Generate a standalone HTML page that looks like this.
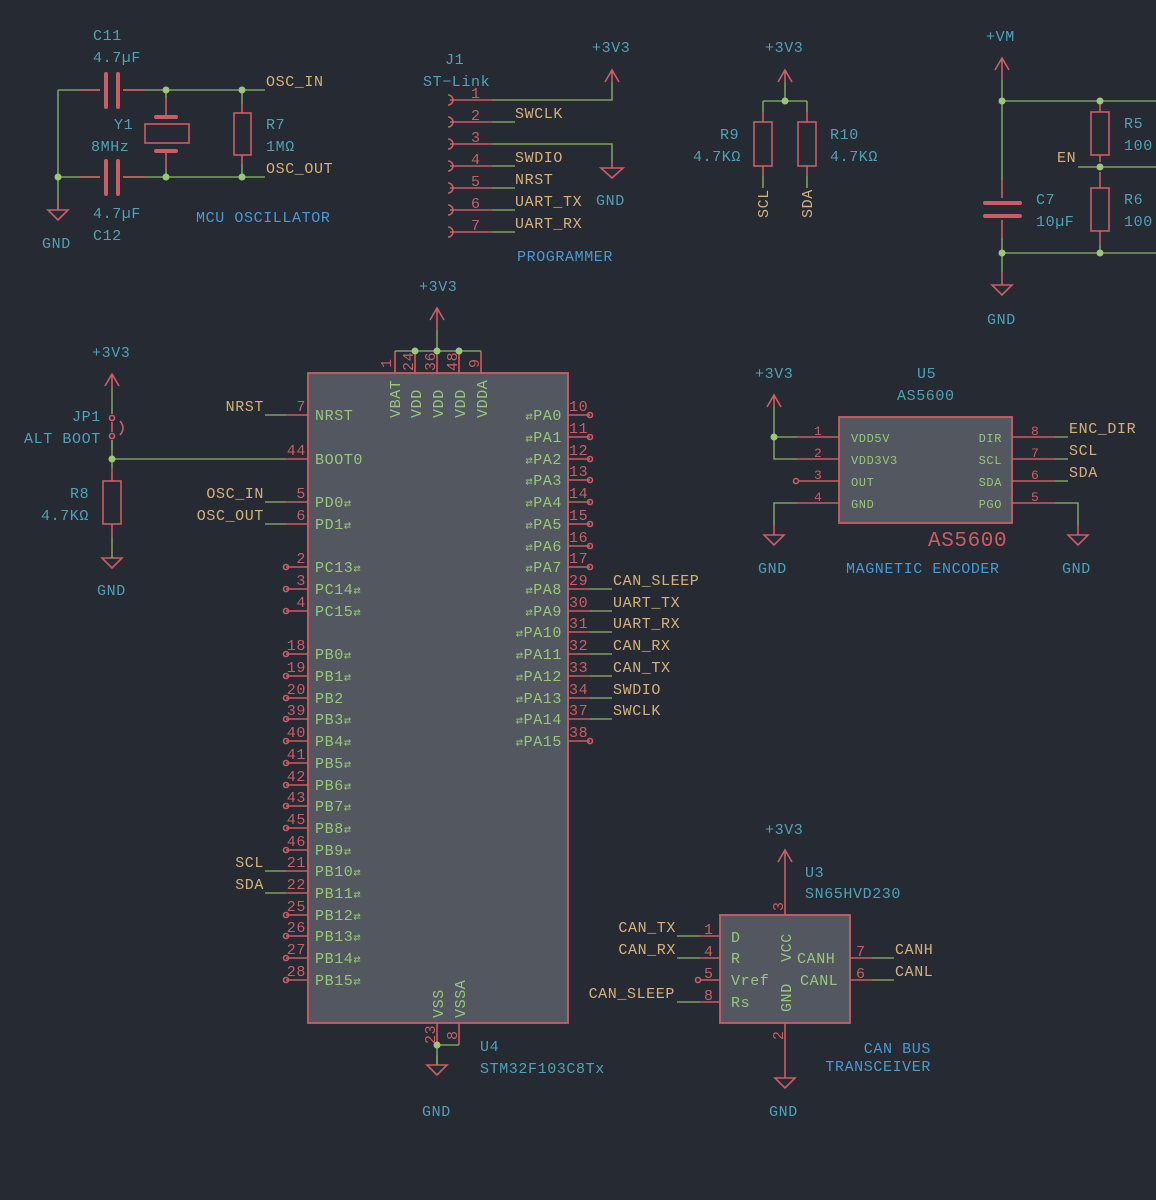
<!DOCTYPE html>
<html><head><meta charset="utf-8"><style>
html,body{margin:0;padding:0;background:#262a33;}
svg{display:block;}
text{font-family:"Liberation Mono",monospace;font-size:15px;letter-spacing:0.6px;}
.c{fill:#4ea3b8}.t{fill:#d6b27c}.g{fill:#98c878}.r{fill:#cc5d65}.b{fill:#4b9ad0}
.w{stroke:#7e9e5c;stroke-width:1.6;fill:none}
.p{stroke:#cc5d65;stroke-width:1.6;fill:none}
.pb{stroke:#cc5d65;stroke-width:4;fill:none;stroke-linecap:round}
.j{fill:#98c878}
.body{fill:#53575f;stroke:#cc5d65;stroke-width:1.8}
.s{font-size:12px}
</style></head><body>
<svg width="1156" height="1200" viewBox="0 0 1156 1200" xmlns="http://www.w3.org/2000/svg">
<rect width="1156" height="1200" fill="#262a33"/>

<!-- ===== OSCILLATOR ===== -->
<path class="w" d="M58 90H100M123 90H265M58 90V210M58 177H100M123 177H265M166 90V98M166 169V177M242 90V104M242 164V177"/>
<path class="p" d="M80 90H100M123 90H145M80 177H100M123 177H145M166 98V118M166 150V169M242 104V113M242 155V164"/>
<path class="pb" d="M106 74V107M118 74V107M106 161V194M118 161V194"/>
<path class="pb" d="M156 117H176M156 151H176"/>
<rect x="145" y="124" width="44" height="19" class="p" stroke-width="2"/>
<rect x="234" y="113" width="17" height="42" class="p" stroke-width="2"/>
<path class="p" d="M58 200V210M48 210H68L58 220Z"/>
<circle cx="166" cy="90" r="3.5" class="j"/><circle cx="242" cy="90" r="3.5" class="j"/>
<circle cx="166" cy="177" r="3.5" class="j"/><circle cx="242" cy="177" r="3.5" class="j"/>
<circle cx="58" cy="177" r="3.5" class="j"/>
<text x="93" y="40" class="c">C11</text><text x="93" y="62" class="c">4.7µF</text>
<text x="114" y="129" class="c">Y1</text><text x="91" y="151" class="c">8MHz</text>
<text x="93" y="218" class="c">4.7µF</text><text x="93" y="240" class="c">C12</text>
<text x="266" y="129" class="c">R7</text><text x="266" y="151" class="c">1MΩ</text>
<text x="266" y="86" class="t">OSC_IN</text><text x="266" y="173" class="t">OSC_OUT</text>
<text x="196" y="222" class="b">MCU OSCILLATOR</text>
<text x="42" y="248" class="c">GND</text>

<!-- ===== J1 ===== -->
<g>
<path class="p" d="M450 100H492M450 122H492M450 144H492M450 166H492M450 188H492M450 210H492M450 232H492"/>
<path class="w" d="M492 100H612V82M492 122H515M492 144H612V162M492 166H515M492 188H515M492 210H515M492 232H515"/>
<path class="p" d="M448 95a5 5 0 0 1 0 10M448 117a5 5 0 0 1 0 10M448 139a5 5 0 0 1 0 10M448 161a5 5 0 0 1 0 10M448 183a5 5 0 0 1 0 10M448 205a5 5 0 0 1 0 10M448 227a5 5 0 0 1 0 10"/>
<path class="p" d="M612 70V82M605 82L612 70L619 82M612 162V168M601 168H623L612 178Z"/>
<text x="471" y="98" class="r">1</text><text x="471" y="120" class="r">2</text><text x="471" y="142" class="r">3</text><text x="471" y="164" class="r">4</text><text x="471" y="186" class="r">5</text><text x="471" y="208" class="r">6</text><text x="471" y="230" class="r">7</text>
<text x="515" y="118" class="t">SWCLK</text><text x="515" y="162" class="t">SWDIO</text><text x="515" y="184" class="t">NRST</text><text x="515" y="206" class="t">UART_TX</text><text x="515" y="228" class="t">UART_RX</text>
<text x="445" y="64" class="c">J1</text><text x="423" y="86" class="c">ST−Link</text>
<text x="592" y="52" class="c">+3V3</text><text x="596" y="205" class="c">GND</text>
<text x="517" y="261" class="b">PROGRAMMER</text>
</g>

<!-- ===== R9 R10 ===== -->
<path class="p" d="M785 70V82M778 82L785 70L792 82M763 112V122M807 112V122M763 166V176M807 166V176"/>
<path class="w" d="M785 82V101M763 101H807M763 101V112M807 101V112M763 176V188M807 176V188"/>
<rect x="754" y="122" width="18" height="44" class="p" stroke-width="2"/>
<rect x="798" y="122" width="18" height="44" class="p" stroke-width="2"/>
<circle cx="785" cy="101" r="3.5" class="j"/>
<text x="765" y="52" class="c">+3V3</text>
<text x="720" y="139" class="c">R9</text><text x="693" y="161" class="c">4.7KΩ</text>
<text x="830" y="139" class="c">R10</text><text x="830" y="161" class="c">4.7KΩ</text>
<text transform="translate(768 218) rotate(-90)" class="t">SCL</text>
<text transform="translate(812 218) rotate(-90)" class="t">SDA</text>

<!-- ===== VM ===== -->
<path class="p" d="M1002 58V80M995 70L1002 58L1009 70M1002 180V198M1002 220V238M1002 272V285M992 285H1012L1002 295ZM1100 104V112M1100 155V162M1100 172V188M1100 231V245"/>
<path class="w" d="M1002 80V180M1002 238V272M1002 101H1156M1002 253H1156M1078 167H1156M1100 101V104M1100 245V253"/>
<path class="pb" d="M985 203H1020M985 216H1020"/>
<rect x="1091" y="112" width="18" height="43" class="p" stroke-width="2"/>
<rect x="1091" y="188" width="18" height="43" class="p" stroke-width="2"/>
<circle cx="1002" cy="101" r="3.5" class="j"/><circle cx="1100" cy="101" r="3.5" class="j"/>
<circle cx="1100" cy="167" r="3.5" class="j"/><circle cx="1002" cy="253" r="3.5" class="j"/><circle cx="1100" cy="253" r="3.5" class="j"/>
<text x="986" y="41" class="c">+VM</text>
<text x="1124" y="128" class="c">R5</text><text x="1124" y="150" class="c">100</text>
<text x="1124" y="204" class="c">R6</text><text x="1124" y="226" class="c">100</text>
<text x="1036" y="204" class="c">C7</text><text x="1036" y="226" class="c">10µF</text>
<text x="1057" y="162" class="t">EN</text>
<text x="987" y="324" class="c">GND</text>

<!-- ===== JP1 / R8 ===== -->
<path class="p" d="M112 374V388M105 386L112 374L119 386M112 422V432M112 440V450M112 468V481M112 524V537M112 557V558M102 558H122L112 568Z"/>
<path class="w" d="M112 388V414M112 440V468M112 459H286M112 537V558"/>
<circle cx="112" cy="418" r="2.5" class="p" stroke-width="1.2"/>
<circle cx="112" cy="436" r="2.5" class="p" stroke-width="1.2"/>
<path class="p" stroke-width="1.2" d="M120 421Q126 428 120 435"/>
<rect x="103" y="481" width="18" height="43" class="p" stroke-width="2"/>
<circle cx="112" cy="459" r="3.5" class="j"/>
<text x="92" y="357" class="c">+3V3</text>
<text x="72" y="421" class="c">JP1</text><text x="24" y="443" class="c">ALT BOOT</text>
<text x="70" y="498" class="c">R8</text><text x="41" y="520" class="c">4.7KΩ</text>
<text x="97" y="595" class="c">GND</text>

<!-- ===== U4 ===== -->
<rect x="308" y="373" width="260" height="650" class="body"/>
<path class="p" d="M437 308V330M430 320L437 308L444 320M395 351V373M415 351V373M437 351V373M459 351V373M481 351V373M437 1023V1045M459 1023V1045M437 1055V1065M427 1065H447L437 1075Z"/>
<path class="w" d="M437 330V351M395 351H481M437 1045H459M437 1045V1065"/>
<circle cx="415" cy="351" r="3.5" class="j"/><circle cx="437" cy="351" r="3.5" class="j"/><circle cx="459" cy="351" r="3.5" class="j"/>
<circle cx="437" cy="1045" r="3.5" class="j"/>
<text x="419" y="291" class="c">+3V3</text>
<text transform="translate(391 368) rotate(-90)" class="r">1</text>
<text transform="translate(413 371) rotate(-90)" class="r">24</text>
<text transform="translate(435 371) rotate(-90)" class="r">36</text>
<text transform="translate(457 371) rotate(-90)" class="r">48</text>
<text transform="translate(479 368) rotate(-90)" class="r">9</text>
<text transform="translate(400 418) rotate(-90)" class="g">VBAT</text>
<text transform="translate(421 418) rotate(-90)" class="g">VDD</text>
<text transform="translate(443 418) rotate(-90)" class="g">VDD</text>
<text transform="translate(465 418) rotate(-90)" class="g">VDD</text>
<text transform="translate(487 418) rotate(-90)" class="g">VDDA</text>
<text transform="translate(443 1018) rotate(-90)" class="g">VSS</text>
<text transform="translate(465 1018) rotate(-90)" class="g">VSSA</text>
<text transform="translate(435 1044) rotate(-90)" class="r">23</text>
<text transform="translate(457 1040) rotate(-90)" class="r">8</text>
<text x="480" y="1051" class="c">U4</text><text x="480" y="1073" class="c">STM32F103C8Tx</text>
<text x="422" y="1116" class="c">GND</text>

<!-- left pins -->
<path class="p" d="M286 415H308M286 459H308M286 502H308M286 524H308M286 567H308M286 589H308M286 611H308M286 654H308M286 676H308M286 698H308M286 719H308M286 741H308M286 763H308M286 785H308M286 806H308M286 828H308M286 850H308M286 871H308M286 893H308M286 915H308M286 936H308M286 958H308M286 980H308"/>
<path class="w" d="M265 415H286M265 502H286M265 524H286M265 871H286M265 893H286"/>
<g class="p" stroke-width="1.2">
<circle cx="286" cy="567" r="2.5"/><circle cx="286" cy="589" r="2.5"/><circle cx="286" cy="611" r="2.5"/>
<circle cx="286" cy="654" r="2.5"/><circle cx="286" cy="676" r="2.5"/><circle cx="286" cy="698" r="2.5"/>
<circle cx="286" cy="719" r="2.5"/><circle cx="286" cy="741" r="2.5"/><circle cx="286" cy="763" r="2.5"/>
<circle cx="286" cy="785" r="2.5"/><circle cx="286" cy="806" r="2.5"/><circle cx="286" cy="828" r="2.5"/>
<circle cx="286" cy="850" r="2.5"/><circle cx="286" cy="915" r="2.5"/><circle cx="286" cy="936" r="2.5"/>
<circle cx="286" cy="958" r="2.5"/><circle cx="286" cy="980" r="2.5"/>
</g>
<g class="r" text-anchor="end">
<text x="306" y="411">7</text><text x="306" y="455">44</text><text x="306" y="498">5</text><text x="306" y="520">6</text>
<text x="306" y="563">2</text><text x="306" y="585">3</text><text x="306" y="607">4</text>
<text x="306" y="650">18</text><text x="306" y="672">19</text><text x="306" y="694">20</text><text x="306" y="715">39</text>
<text x="306" y="737">40</text><text x="306" y="759">41</text><text x="306" y="781">42</text><text x="306" y="802">43</text>
<text x="306" y="824">45</text><text x="306" y="846">46</text><text x="306" y="867">21</text><text x="306" y="889">22</text>
<text x="306" y="911">25</text><text x="306" y="932">26</text><text x="306" y="954">27</text><text x="306" y="976">28</text>
</g>
<g class="g">
<text x="315" y="420">NRST</text><text x="315" y="464">BOOT0</text>
<text x="315" y="507">PD0<tspan class="s">⇄</tspan></text><text x="315" y="529">PD1<tspan class="s">⇄</tspan></text>
<text x="315" y="572">PC13<tspan class="s">⇄</tspan></text><text x="315" y="594">PC14<tspan class="s">⇄</tspan></text><text x="315" y="616">PC15<tspan class="s">⇄</tspan></text>
<text x="315" y="659">PB0<tspan class="s">⇄</tspan></text><text x="315" y="681">PB1<tspan class="s">⇄</tspan></text><text x="315" y="703">PB2</text>
<text x="315" y="724">PB3<tspan class="s">⇄</tspan></text><text x="315" y="746">PB4<tspan class="s">⇄</tspan></text><text x="315" y="768">PB5<tspan class="s">⇄</tspan></text>
<text x="315" y="790">PB6<tspan class="s">⇄</tspan></text><text x="315" y="811">PB7<tspan class="s">⇄</tspan></text><text x="315" y="833">PB8<tspan class="s">⇄</tspan></text>
<text x="315" y="855">PB9<tspan class="s">⇄</tspan></text><text x="315" y="876">PB10<tspan class="s">⇄</tspan></text><text x="315" y="898">PB11<tspan class="s">⇄</tspan></text>
<text x="315" y="920">PB12<tspan class="s">⇄</tspan></text><text x="315" y="941">PB13<tspan class="s">⇄</tspan></text><text x="315" y="963">PB14<tspan class="s">⇄</tspan></text>
<text x="315" y="985">PB15<tspan class="s">⇄</tspan></text>
</g>
<g class="t" text-anchor="end">
<text x="264" y="411">NRST</text><text x="264" y="498">OSC_IN</text><text x="264" y="520">OSC_OUT</text>
<text x="264" y="867">SCL</text><text x="264" y="889">SDA</text>
</g>

<!-- right pins -->
<path class="p" d="M568 415H590M568 437H590M568 459H590M568 480H590M568 502H590M568 524H590M568 546H590M568 567H590M568 589H590M568 611H590M568 632H590M568 654H590M568 676H590M568 698H590M568 719H590M568 741H590"/>
<path class="w" d="M590 589H612M590 611H612M590 632H612M590 654H612M590 676H612M590 698H612M590 719H612"/>
<g class="p" stroke-width="1.2">
<circle cx="590" cy="415" r="2.5"/><circle cx="590" cy="437" r="2.5"/><circle cx="590" cy="459" r="2.5"/>
<circle cx="590" cy="480" r="2.5"/><circle cx="590" cy="502" r="2.5"/><circle cx="590" cy="524" r="2.5"/>
<circle cx="590" cy="546" r="2.5"/><circle cx="590" cy="567" r="2.5"/><circle cx="590" cy="741" r="2.5"/>
</g>
<g class="r">
<text x="569" y="411">10</text><text x="569" y="433">11</text><text x="569" y="455">12</text><text x="569" y="476">13</text>
<text x="569" y="498">14</text><text x="569" y="520">15</text><text x="569" y="542">16</text><text x="569" y="563">17</text>
<text x="569" y="585">29</text><text x="569" y="607">30</text><text x="569" y="628">31</text><text x="569" y="650">32</text>
<text x="569" y="672">33</text><text x="569" y="694">34</text><text x="569" y="715">37</text><text x="569" y="737">38</text>
</g>
<g class="g" text-anchor="end">
<text x="562" y="420"><tspan class="s">⇄</tspan>PA0</text><text x="562" y="442"><tspan class="s">⇄</tspan>PA1</text>
<text x="562" y="464"><tspan class="s">⇄</tspan>PA2</text><text x="562" y="485"><tspan class="s">⇄</tspan>PA3</text>
<text x="562" y="507"><tspan class="s">⇄</tspan>PA4</text><text x="562" y="529"><tspan class="s">⇄</tspan>PA5</text>
<text x="562" y="551"><tspan class="s">⇄</tspan>PA6</text><text x="562" y="572"><tspan class="s">⇄</tspan>PA7</text>
<text x="562" y="594"><tspan class="s">⇄</tspan>PA8</text><text x="562" y="616"><tspan class="s">⇄</tspan>PA9</text>
<text x="562" y="637"><tspan class="s">⇄</tspan>PA10</text><text x="562" y="659"><tspan class="s">⇄</tspan>PA11</text>
<text x="562" y="681"><tspan class="s">⇄</tspan>PA12</text><text x="562" y="703"><tspan class="s">⇄</tspan>PA13</text>
<text x="562" y="724"><tspan class="s">⇄</tspan>PA14</text><text x="562" y="746"><tspan class="s">⇄</tspan>PA15</text>
</g>
<g class="t">
<text x="613" y="585">CAN_SLEEP</text><text x="613" y="607">UART_TX</text><text x="613" y="628">UART_RX</text>
<text x="613" y="650">CAN_RX</text><text x="613" y="672">CAN_TX</text><text x="613" y="694">SWDIO</text><text x="613" y="715">SWCLK</text>
</g>

<!-- ===== AS5600 ===== -->
<rect x="839" y="417" width="173" height="106" class="body"/>
<path class="p" d="M774 395V407M767 407L774 395L781 407M797 437H839M797 459H839M798 481H839M797 503H839M1012 437H1055M1012 459H1055M1012 481H1055M1012 503H1055M774 525V535M764 535H784L774 545ZM1078 525V535M1068 535H1088L1078 545Z"/>
<path class="w" d="M774 407V459H797M774 437H797M797 503H774V525M1055 437H1068M1055 459H1068M1055 481H1068M1055 503H1078V525"/>
<circle cx="774" cy="437" r="3.5" class="j"/>
<circle cx="796" cy="481" r="2.5" class="p" stroke-width="1.2"/>
<g class="r" font-size="13"><text x="814" y="435" style="font-size:13px">1</text><text x="814" y="457" style="font-size:13px">2</text><text x="814" y="479" style="font-size:13px">3</text><text x="814" y="501" style="font-size:13px">4</text>
<text x="1031" y="435" style="font-size:13px">8</text><text x="1031" y="457" style="font-size:13px">7</text><text x="1031" y="479" style="font-size:13px">6</text><text x="1031" y="501" style="font-size:13px">5</text></g>
<g class="g" style="font-size:12px"><text x="851" y="442" style="font-size:12px">VDD5V</text><text x="851" y="464" style="font-size:12px">VDD3V3</text><text x="851" y="486" style="font-size:12px">OUT</text><text x="851" y="508" style="font-size:12px">GND</text></g>
<g class="g" text-anchor="end"><text x="1002" y="442" style="font-size:12px">DIR</text><text x="1002" y="464" style="font-size:12px">SCL</text><text x="1002" y="486" style="font-size:12px">SDA</text><text x="1002" y="508" style="font-size:12px">PGO</text></g>
<g class="t"><text x="1069" y="433">ENC_DIR</text><text x="1069" y="455">SCL</text><text x="1069" y="477">SDA</text></g>
<text x="928" y="546" class="r" style="font-size:21px">AS5600</text>
<text x="917" y="378" class="c">U5</text><text x="897" y="400" class="c">AS5600</text>
<text x="755" y="378" class="c">+3V3</text>
<text x="846" y="573" class="b">MAGNETIC ENCODER</text>
<text x="758" y="573" class="c">GND</text><text x="1062" y="573" class="c">GND</text>

<!-- ===== U3 ===== -->
<rect x="720" y="915" width="130" height="108" class="body"/>
<path class="p" d="M785 850V915M778 862L785 850L792 862M785 1023V1078M775 1078H795L785 1088ZM700 936H720M700 958H720M700 980H720M700 1002H720M850 958H872M850 980H872"/>
<path class="w" d="M677 936H700M677 958H700M677 1002H700M872 958H894M872 980H894"/>
<circle cx="698" cy="980" r="2.5" class="p" stroke-width="1.2"/>
<g class="r"><text x="704" y="934">1</text><text x="704" y="956">4</text><text x="704" y="978">5</text><text x="704" y="1000">8</text>
<text x="856" y="956">7</text><text x="856" y="978">6</text>
<text transform="translate(783 911) rotate(-90)">3</text><text transform="translate(783 1040) rotate(-90)">2</text></g>
<g class="g"><text x="731" y="942">D</text><text x="731" y="963">R</text><text x="731" y="985">Vref</text><text x="731" y="1007">Rs</text>
<text x="797" y="963">CANH</text><text x="800" y="985">CANL</text>
<text transform="translate(791 962) rotate(-90)">VCC</text><text transform="translate(791 1012) rotate(-90)">GND</text></g>
<g class="t" text-anchor="end"><text x="676" y="932">CAN_TX</text><text x="676" y="954">CAN_RX</text><text x="675" y="998">CAN_SLEEP</text></g>
<g class="t"><text x="895" y="954">CANH</text><text x="895" y="976">CANL</text></g>
<text x="805" y="877" class="c">U3</text><text x="805" y="898" class="c">SN65HVD230</text>
<text x="765" y="834" class="c">+3V3</text>
<text x="931" y="1053" class="b" text-anchor="end">CAN BUS</text>
<text x="931" y="1071" class="b" text-anchor="end">TRANSCEIVER</text>
<text x="769" y="1116" class="c">GND</text>
</svg>
</body></html>
